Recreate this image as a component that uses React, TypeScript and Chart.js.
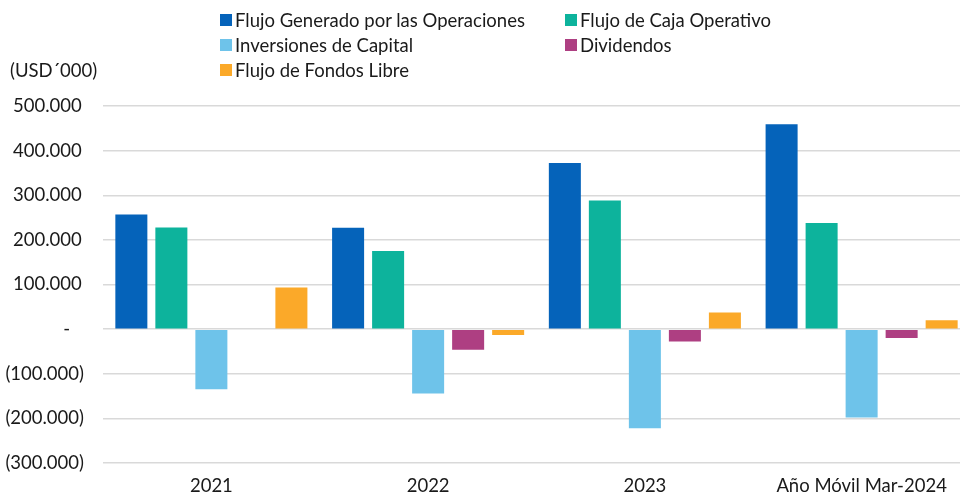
import React, { useEffect, useRef } from "react";
import { Chart, registerables } from "chart.js";

Chart.register(...registerables);

const categories = ["2021", "2022", "2023", "Año Móvil Mar-2024"];
const flujoGenerado = [257000, 227000, 372000, 459000];
const flujoCajaOperativo = [228000, 175000, 288000, 238000];
const inversionesCapital = [-135000, -144000, -222000, -198000];
const dividendos = [0, -46000, -28000, -20000];
const flujoFondosLibre = [93500, -13000, 37000, 20000];

const seriesNames = [
  "Flujo Generado por las Operaciones",
  "Flujo de Caja Operativo",
  "Inversiones de Capital",
  "Dividendos",
  "Flujo de Fondos Libre",
];
const seriesColors = ["#0563BA", "#0DB39C", "#6EC3EA", "#AE3F82", "#FBA929"];
const seriesData = [flujoGenerado, flujoCajaOperativo, inversionesCapital, dividendos, flujoFondosLibre];

const FONT = "Lato, 'Open Sans', sans-serif";
const FS = 18.5;

function fmt(v: number): string {
  if (v === 0) return "-\u2002\u2009\u2009";
  const s = Math.abs(v).toLocaleString("de-DE");
  return v < 0 ? `(${s})` : `${s}\u2009`;
}

// legend layout: [left x, row center y]
const legendPos: [number, number][] = [
  [220, 20],
  [565, 20],
  [220, 45],
  [565, 45],
  [220, 70],
];

export default function App() {
  const ref = useRef<HTMLCanvasElement | null>(null);
  useEffect(() => {
    document.body.style.margin = "0";
    const ctx = ref.current!;
    const chart = new Chart(ctx, {
      type: "bar",
      data: {
        labels: categories,
        datasets: seriesNames.map((name, i) => ({
          label: name,
          data: seriesData[i],
          backgroundColor: seriesColors[i],
          borderWidth: 0,
          categoryPercentage: 0.923,
          barPercentage: 0.8,
        })),
      },
      options: {
        animation: false,
        responsive: false,
        maintainAspectRatio: false,
        layout: { padding: { top: 106, left: 0, right: 2, bottom: 0 } },
        plugins: {
          legend: { display: false },
          tooltip: { enabled: false },
        },
        scales: {
          x: {
            grid: { display: false, drawTicks: false },
            border: { display: false },
            ticks: { color: "#1a1a1a", font: { family: FONT, size: FS }, padding: 12, maxRotation: 0 },
            afterFit: (s: any) => {
              s.height = 34;
            },
          },
          y: {
            min: -300000,
            max: 500000,
            ticks: {
              stepSize: 100000,
              color: "#1a1a1a",
              font: { family: FONT, size: FS },
              padding: 19,
              callback: (v: any) => fmt(Number(v)),
            },
            grid: { color: "#d9d9d9", lineWidth: 1.5, drawTicks: false },
            border: { display: false },
            afterFit: (s: any) => {
              s.width = 103;
            },
          },
        },
      },
    });
    return () => chart.destroy();
  }, []);

  return (
    <div
      style={{
        position: "fixed",
        left: 0,
        top: 0,
        width: 960,
        height: 497,
        overflow: "hidden",
        background: "#fff",
        fontFamily: FONT,
      }}
    >
      <canvas ref={ref} width={972} height={497} style={{ position: "absolute", left: 0, top: 0 }} />
      {seriesNames.map((name, i) => (
        <div
          key={name}
          style={{
            position: "absolute",
            left: legendPos[i][0],
            top: legendPos[i][1] - 11,
            height: 22,
            display: "flex",
            alignItems: "center",
            fontSize: FS,
            color: "#1a1a1a",
            whiteSpace: "nowrap",
          }}
        >
          <span style={{ display: "inline-block", width: 12, height: 12, background: seriesColors[i], marginRight: 3 }} />
          <span>{name}</span>
        </div>
      ))}
      <div style={{ position: "absolute", left: 10, top: 59, fontSize: FS, lineHeight: "22px", color: "#1a1a1a", whiteSpace: "nowrap" }}>
        (USD´000)
      </div>
    </div>
  );
}
